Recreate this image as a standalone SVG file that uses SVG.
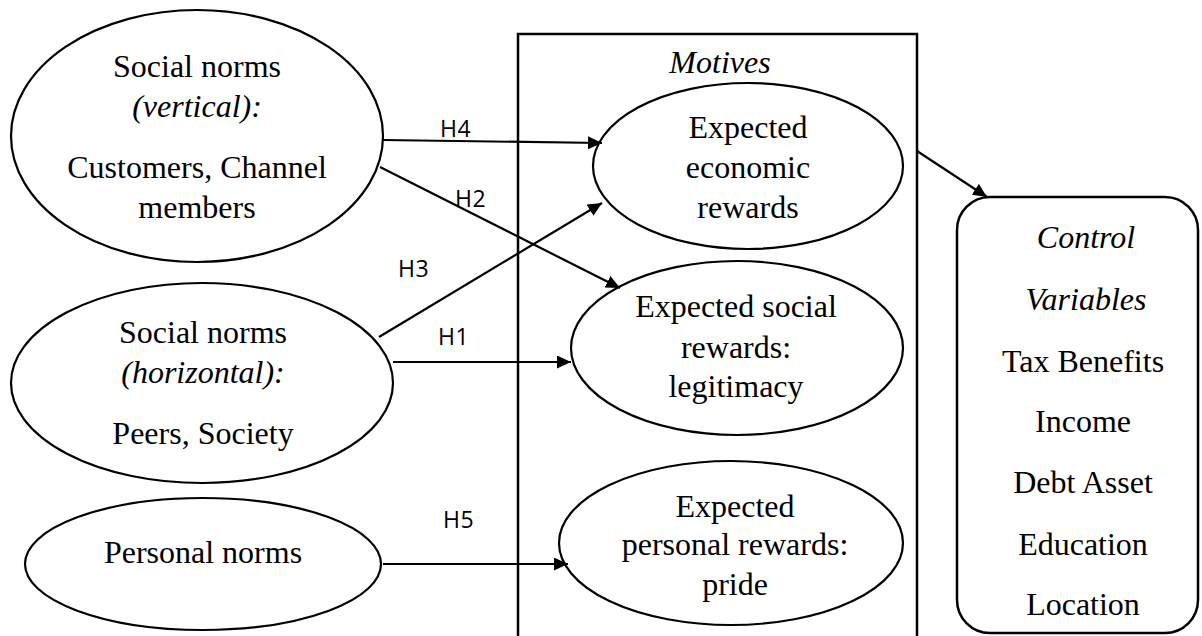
<svg xmlns="http://www.w3.org/2000/svg" width="1202" height="636" viewBox="0 0 1202 636">
<defs>
<style>
.shape{fill:#fff;stroke:#000;stroke-width:2.2}
.box{fill:none;stroke:#000;stroke-width:2.5}
.t{font-family:"Liberation Serif","Times New Roman",serif;font-size:32px;fill:#000;text-anchor:middle}
.i{font-style:italic}
.h{font-family:"Open Sans","Liberation Sans",sans-serif;font-size:23px;fill:#000;letter-spacing:0.5px}
.c{stroke:#000;stroke-width:2.2;fill:none;marker-end:url(#arr)}
</style>
<marker id="arr" markerUnits="userSpaceOnUse" markerWidth="16" markerHeight="14" refX="14" refY="6.5" orient="auto">
<path d="M0,0 L14,6.5 L0,13 z" fill="#000"/>
</marker>
</defs>
<rect width="1202" height="636" fill="#fff"/>
<g id="motives-box">
<rect class="box" x="518" y="34" width="399" height="640"/>
<text class="t i" x="720" y="73">Motives</text>
</g>
<g id="social-vertical">
<ellipse class="shape" cx="197" cy="136" rx="186" ry="126"/>
<text class="t" x="197" y="77">Social norms</text>
<text class="t i" x="197" y="117">(vertical):</text>
<text class="t" x="197" y="178">Customers, Channel</text>
<text class="t" x="197" y="218">members</text>
</g>
<g id="social-horizontal">
<ellipse class="shape" cx="202" cy="383" rx="191" ry="100"/>
<text class="t" x="203" y="343">Social norms</text>
<text class="t i" x="203" y="383">(horizontal):</text>
<text class="t" x="203" y="444">Peers, Society</text>
</g>
<g id="personal-norms">
<ellipse class="shape" cx="203" cy="564" rx="178" ry="66"/>
<text class="t" x="203" y="563">Personal norms</text>
</g>
<g id="economic">
<ellipse class="shape" cx="748" cy="166" rx="155" ry="83"/>
<text class="t" x="748" y="138">Expected</text>
<text class="t" x="748" y="178">economic</text>
<text class="t" x="748" y="218">rewards</text>
</g>
<g id="social-rewards">
<ellipse class="shape" cx="737" cy="348" rx="166" ry="87"/>
<text class="t" x="736" y="317">Expected social</text>
<text class="t" x="736" y="358">rewards:</text>
<text class="t" x="736" y="397">legitimacy</text>
</g>
<g id="personal-rewards">
<ellipse class="shape" cx="731" cy="543" rx="172" ry="82"/>
<text class="t" x="735" y="517">Expected</text>
<text class="t" x="735" y="555">personal rewards:</text>
<text class="t" x="735" y="595">pride</text>
</g>
<g id="control">
<rect class="box" x="957" y="197" width="241" height="436" rx="33" ry="33"/>
<text class="t i" x="1086" y="248">Control</text>
<text class="t i" x="1086" y="310">Variables</text>
<text class="t" x="1083" y="372">Tax Benefits</text>
<text class="t" x="1083" y="432">Income</text>
<text class="t" x="1083" y="493">Debt Asset</text>
<text class="t" x="1083" y="555">Education</text>
<text class="t" x="1083" y="615">Location</text>
</g>
<g id="connectors">
<line class="c" x1="383" y1="140" x2="602" y2="143"/>
<line class="c" x1="380" y1="167" x2="620" y2="288"/>
<line class="c" x1="379" y1="337" x2="602" y2="203"/>
<line class="c" x1="393" y1="362" x2="571" y2="362"/>
<line class="c" x1="383" y1="564" x2="568" y2="564"/>
<line class="c" x1="917" y1="151" x2="987" y2="197"/>
<text class="h" x="440" y="137">H4</text>
<text class="h" x="455" y="207">H2</text>
<text class="h" x="398" y="277">H3</text>
<text class="h" x="438" y="345">H1</text>
<text class="h" x="443" y="528">H5</text>
</g>
</svg>
